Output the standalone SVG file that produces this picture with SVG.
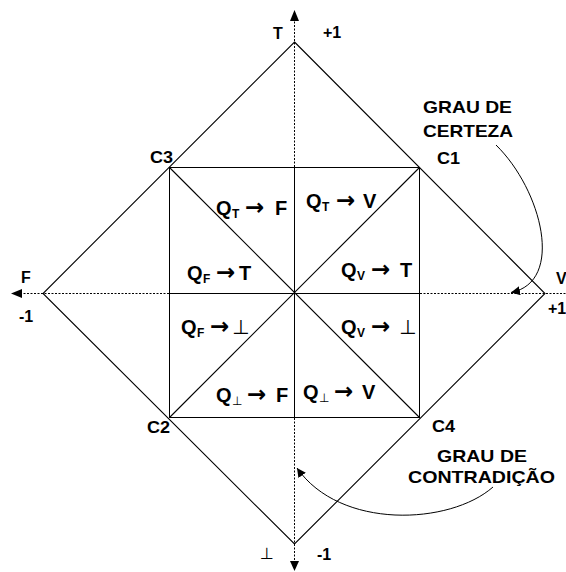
<svg xmlns="http://www.w3.org/2000/svg" width="566" height="572" viewBox="0 0 566 572">
<style>
  .ln { stroke:#000; stroke-width:1; fill:none; }
  .dg { stroke:#000; stroke-width:1.1; fill:none; }
  .ax { stroke:#000; stroke-width:1; fill:none; stroke-dasharray:2 1.5; }
  .cv { stroke:#000; stroke-width:1; fill:none; }
  .lb { font-family:"Liberation Sans","DejaVu Sans",Arial,sans-serif; font-weight:bold; font-size:16px; fill:#000; }
  .big { font-size:17px; }
  .q { font-family:"Liberation Sans","DejaVu Sans",Arial,sans-serif; font-weight:bold; font-size:20px; fill:#000; }
  .sub { font-size:12px; }
  .arr { font-family:"DejaVu Sans",sans-serif; font-weight:bold; font-size:23px; }
  .perp { font-family:"DejaVu Sans","Liberation Sans",sans-serif; font-weight:normal; }
</style>
<defs>
  <marker id="ah" viewBox="0 0 10 10" refX="10" refY="5" markerWidth="9" markerHeight="9" markerUnits="userSpaceOnUse" orient="auto">
    <path d="M0,0 L10,5 L0,10 z" fill="#000"/>
  </marker>
</defs>
<rect width="566" height="572" fill="#fff"/>
<g id="connectors">
  <!-- diamond -->
  <polygon class="dg" points="294.5,42 545,293.5 294.5,544 43,293.5"/>
  <!-- square -->
  <rect class="ln" x="169.5" y="167.5" width="250" height="250"/>
  <!-- diagonals -->
  <line class="dg" x1="169.5" y1="167.5" x2="419.5" y2="417.5"/>
  <line class="dg" x1="419.5" y1="167.5" x2="169.5" y2="417.5"/>
  <!-- axes solid inside square -->
  <line class="ln" x1="294.5" y1="167.5" x2="294.5" y2="417.5"/>
  <line class="ln" x1="169.5" y1="293.5" x2="419.5" y2="293.5"/>
  <!-- axes dashed outside -->
  <line class="ax" x1="294.5" y1="167" x2="294.5" y2="20"/>
  <polygon points="294.5,10 290,21 299,21" fill="#000"/>
  <line class="ax" x1="294.5" y1="418" x2="294.5" y2="562"/>
  <polygon points="294.5,571 290,561 299,561" fill="#000"/>
  <line class="ax" x1="169" y1="293.5" x2="22" y2="293.5"/>
  <polygon points="11,293.5 22,289 22,298" fill="#000"/>
  <line class="ax" x1="420" y1="293.5" x2="566" y2="293.5"/>
  <!-- curved pointers -->
  <path class="cv" d="M496,145 C542,190 565,282 511,292.5" marker-end="url(#ah)"/>
  <path class="cv" d="M493,487 C450,525 340,530 297,468" marker-end="url(#ah)"/>
</g>
<g id="axis-labels">
  <text class="lb" x="273" y="39">T</text>
  <text class="lb" x="323" y="38">+1</text>
  <text class="lb" x="21" y="283">F</text>
  <text class="lb" x="19" y="322">-1</text>
  <text class="lb" x="556" y="284">V</text>
  <text class="lb" x="548" y="314">+1</text>
  <text class="lb perp" x="260" y="559" font-size="21">⊥</text>
  <text class="lb" x="317" y="560">-1</text>
</g>
<g id="corner-labels">
  <text class="lb" x="150" y="163" textLength="23" lengthAdjust="spacingAndGlyphs">C3</text>
  <text class="lb" x="437" y="164" textLength="23" lengthAdjust="spacingAndGlyphs">C1</text>
  <text class="lb" x="147" y="433" textLength="23" lengthAdjust="spacingAndGlyphs">C2</text>
  <text class="lb" x="432" y="432" textLength="23" lengthAdjust="spacingAndGlyphs">C4</text>
</g>
<g id="grau-certeza">
  <text class="lb big" x="423" y="113" textLength="89" lengthAdjust="spacingAndGlyphs">GRAU DE</text>
  <text class="lb big" x="423" y="137" textLength="90" lengthAdjust="spacingAndGlyphs">CERTEZA</text>
</g>
<g id="grau-contradicao">
  <text class="lb big" x="437" y="462" textLength="90" lengthAdjust="spacingAndGlyphs">GRAU DE</text>
  <text class="lb big" x="408" y="483" textLength="147" lengthAdjust="spacingAndGlyphs">CONTRADIÇÃO</text>
</g>
<g id="q-labels">
  <text class="q" y="215"><tspan x="216">Q</tspan><tspan class="sub" x="232" dy="3">T</tspan><tspan class="arr" x="245" dy="-3">→</tspan><tspan x="275">F</tspan></text>
  <text class="q" y="208"><tspan x="306">Q</tspan><tspan class="sub" x="322" dy="3">T</tspan><tspan class="arr" x="336" dy="-3">→</tspan><tspan x="363">V</tspan></text>
  <text class="q" y="280"><tspan x="187">Q</tspan><tspan class="sub" x="203" dy="3">F</tspan><tspan class="arr" x="216" dy="-3">→</tspan><tspan x="239">T</tspan></text>
  <text class="q" y="277"><tspan x="341">Q</tspan><tspan class="sub" x="357" dy="3">V</tspan><tspan class="arr" x="371" dy="-3">→</tspan><tspan x="400">T</tspan></text>
  <text class="q" y="334"><tspan x="181">Q</tspan><tspan class="sub" x="197" dy="3">F</tspan><tspan class="arr" x="210" dy="-3">→</tspan><tspan class="perp" x="232">⊥</tspan></text>
  <text class="q" y="334"><tspan x="341">Q</tspan><tspan class="sub" x="357" dy="3">V</tspan><tspan class="arr" x="371" dy="-3">→</tspan><tspan class="perp" x="399">⊥</tspan></text>
  <text class="q" y="402"><tspan x="216">Q</tspan><tspan class="sub perp" x="232" dy="3">⊥</tspan><tspan class="arr" x="247" dy="-3">→</tspan><tspan x="276">F</tspan></text>
  <text class="q" y="399"><tspan x="303">Q</tspan><tspan class="sub perp" x="319" dy="3">⊥</tspan><tspan class="arr" x="334" dy="-3">→</tspan><tspan x="362">V</tspan></text>
</g>
</svg>
